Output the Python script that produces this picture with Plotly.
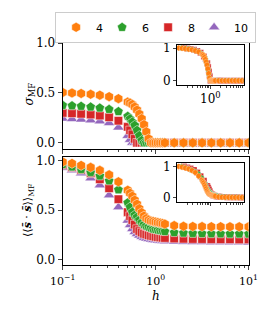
import plotly.graph_objects as go

# ---------------- data ----------------
h = [0.1, 0.126, 0.158, 0.2, 0.251, 0.316, 0.398, 0.501,
     0.531, 0.562, 0.596, 0.631, 0.668, 0.708, 0.75, 0.794, 0.841, 0.891,
     0.944, 1.0, 1.059, 1.122, 1.189,
     1.259, 1.585, 1.995, 2.512, 3.162, 3.981, 5.012, 6.31, 7.943, 10.0]

sigma_4 = [0.505, 0.50, 0.495, 0.487, 0.478, 0.463, 0.443, 0.409,
           0.399, 0.384, 0.359, 0.328, 0.288, 0.242, 0.182, 0.111, 0.04, 0,
           0, 0, 0, 0, 0,
           0, 0, 0, 0, 0, 0, 0, 0, 0, 0]
sigma_6 = [0.376, 0.372, 0.367, 0.36, 0.35, 0.336, 0.314, 0.266,
           0.241, 0.209, 0.175, 0.125, 0.072, 0.023, 0, 0, 0, 0,
           0, 0, 0, 0, 0,
           0, 0, 0, 0, 0, 0, 0, 0, 0, 0]
sigma_8 = [0.30, 0.296, 0.291, 0.284, 0.273, 0.256, 0.222, 0.16,
           0.125, 0.085, 0.04, 0, 0, 0, 0, 0, 0, 0,
           0, 0, 0, 0, 0,
           0, 0, 0, 0, 0, 0, 0, 0, 0, 0]
sigma_10 = [0.243, 0.239, 0.234, 0.226, 0.216, 0.198, 0.154, 0.07,
            0.03, 0, 0, 0, 0, 0, 0, 0, 0, 0,
            0, 0, 0, 0, 0,
            0, 0, 0, 0, 0, 0, 0, 0, 0, 0]

ss_4 = [0.985, 0.97, 0.95, 0.93, 0.90, 0.855, 0.785, 0.70,
        0.67, 0.64, 0.60, 0.56, 0.515, 0.475, 0.44, 0.415, 0.40, 0.39,
        0.385, 0.38, 0.375, 0.37, 0.365,
        0.36, 0.345, 0.338, 0.336, 0.335, 0.334, 0.334, 0.333, 0.333, 0.333]
ss_6 = [0.96, 0.935, 0.91, 0.88, 0.845, 0.795, 0.705, 0.575,
        0.53, 0.48, 0.45, 0.43, 0.40, 0.375, 0.355, 0.34, 0.33, 0.32,
        0.31, 0.305, 0.30, 0.295, 0.29,
        0.285, 0.275, 0.27, 0.267, 0.265, 0.264, 0.263, 0.262, 0.262, 0.261]
ss_8 = [0.955, 0.93, 0.905, 0.87, 0.81, 0.72, 0.61, 0.48,
        0.44, 0.40, 0.355, 0.31, 0.29, 0.275, 0.262, 0.255, 0.248, 0.242,
        0.237, 0.232, 0.228, 0.225, 0.222,
        0.22, 0.215, 0.212, 0.21, 0.209, 0.208, 0.207, 0.207, 0.206, 0.206]
ss_10 = [0.925, 0.90, 0.87, 0.82, 0.75, 0.65, 0.53, 0.395,
         0.35, 0.31, 0.28, 0.26, 0.245, 0.232, 0.222, 0.215, 0.21, 0.205,
         0.2, 0.197, 0.194, 0.192, 0.19,
         0.188, 0.184, 0.182, 0.18, 0.179, 0.178, 0.178, 0.177, 0.177, 0.176]

sizes = [4, 6, 8, 10]
h_c = [0.89, 0.74, 0.62, 0.55]
colors = ["#ff7f0e", "#2ca02c", "#d62728", "#9467bd"]
symbols = ["hexagon", "pentagon", "square", "triangle-up"]
msizes = [10, 10, 8.5, 10]
legend_w = [1, 1, 1, 16]
sigmas = [sigma_4, sigma_6, sigma_8, sigma_10]
sss = [ss_4, ss_6, ss_8, ss_10]

# ---------------- figure ----------------
fig = go.Figure()
serif = "DejaVu Serif"

for i in [3, 2, 1, 0]:
    N = sizes[i]
    mk = dict(symbol=symbols[i], color=colors[i], size=msizes[i],
              line=dict(color="white", width=0.5))
    mk_small = dict(symbol=symbols[i], color=colors[i], size=6,
                    line=dict(color="white", width=0.3))
    fig.add_trace(go.Scatter(x=h, y=sigmas[i], mode="markers", marker=mk,
                             name=str(N), legendrank=i + 1, legendwidth=legend_w[i],
                             xaxis="x", yaxis="y", showlegend=True))
    fig.add_trace(go.Scatter(x=h, y=sss[i], mode="markers", marker=mk,
                             name=str(N), xaxis="x2", yaxis="y2", showlegend=False))
    xs = [v / h_c[i] for v in h]
    ys_top = [v / sigmas[i][0] for v in sigmas[i]]
    s0, s1 = sss[i][0], sss[i][-1]
    ys_bot = [(v - s1) / (s0 - s1) for v in sss[i]]
    fig.add_trace(go.Scatter(x=xs, y=ys_top, mode="markers", marker=mk_small,
                             xaxis="x3", yaxis="y3", showlegend=False, cliponaxis=True))
    fig.add_trace(go.Scatter(x=xs, y=ys_bot, mode="markers", marker=mk_small,
                             xaxis="x4", yaxis="y4", showlegend=False, cliponaxis=True))

minor_vals = [m * 10 ** e for e in (-1, 0) for m in range(2, 10)]
tickfont = dict(family=serif, size=12, color="black")
xdom = [54 / 275, 256 / 275]
idom = [178.3 / 275, 250.7 / 275]

common_x = dict(type="log", range=[-1, 1], showline=True, linecolor="black", linewidth=1,
                mirror=True, ticks="outside", ticklen=4, tickwidth=1, showgrid=False,
                zeroline=False, tickvals=[0.1, 1, 10],
                minor=dict(tickvals=minor_vals, ticks="outside", ticklen=2, tickwidth=0.8,
                           showgrid=False),
                tickfont=tickfont)
common_y = dict(showline=True, linecolor="black", linewidth=1, mirror=True,
                ticks="outside", ticklen=4, tickwidth=1, showgrid=False, zeroline=False,
                tickfont=tickfont)

top_dom = [1 - 148.3 / 315, 1 - 35 / 315]
bot_dom = [1 - 266.7 / 315, 1 - 156.7 / 315]

fig.update_layout(
    width=275, height=315,
    margin=dict(l=0, r=0, t=0, b=0),
    paper_bgcolor="white", plot_bgcolor="white",
    xaxis=dict(common_x, domain=xdom, anchor="y", showticklabels=False),
    yaxis=dict(common_y, domain=top_dom, anchor="x",
               range=[-0.062, 1.049], tickvals=[0, 0.5, 1], ticktext=["0.0", "0.5", "1.0"]),
    xaxis2=dict(common_x, domain=xdom, anchor="y2", ticklabelstandoff=2,
                tickfont=dict(family=serif, size=11, color="black"),
                ticktext=["10<sup>−1</sup>", "10<sup>0</sup>", "10<sup>1</sup>"]),
    yaxis2=dict(common_y, domain=bot_dom, anchor="x2",
                range=[-0.049, 1.032], tickvals=[0, 0.5, 1], ticktext=["0.0", "0.5", "1.0"]),
    xaxis3=dict(common_x, domain=idom, anchor="y3", ticklen=3,
                tickvals=[1], ticktext=["10<sup>0</sup>"]),
    yaxis3=dict(common_y, domain=[1 - 82.7 / 315, 1 - 42 / 315], anchor="x3",
                range=[-0.13, 1.09], tickvals=[0, 1], ticktext=["0", "1"], ticklen=3),
    xaxis4=dict(common_x, domain=idom, anchor="y4", ticklen=3,
                tickvals=[1], showticklabels=False),
    yaxis4=dict(common_y, domain=[1 - 202.3 / 315, 1 - 162.3 / 315], anchor="x4",
                range=[-0.14, 1.12], tickvals=[0, 1], ticktext=["0", "1"], ticklen=3),
    legend=dict(orientation="h", x=155 / 275, xanchor="center", y=1 - 8 / 315,
                yanchor="top", bgcolor="white", bordercolor="#cccccc", borderwidth=1,
                font=dict(family="DejaVu Sans", size=11, color="black"),
                itemwidth=30, tracegroupgap=0),
    annotations=[
        dict(text="<i>σ</i><sub>MF</sub>", xref="paper", yref="paper",
             x=18 / 275, y=1 - 92 / 315, textangle=-90, showarrow=False,
             font=dict(family=serif, size=12, color="black"),
             xanchor="center", yanchor="middle"),
        dict(text="⟨⟨<b><i>s̄</i></b> · <b><i>s̄</i></b>⟩⟩<sub>MF</sub>", xref="paper",
             yref="paper", x=17 / 275, y=1 - 211 / 315, textangle=-90, showarrow=False,
             font=dict(family=serif, size=11, color="black"),
             xanchor="center", yanchor="middle"),
        dict(text="<i>h</i>", xref="paper", yref="paper",
             x=155 / 275, y=1 - 299 / 315, showarrow=False,
             font=dict(family=serif, size=12, color="black"),
             xanchor="center", yanchor="middle"),
    ],
)

fig.write_html("out.html", config={"displayModeBar": False},
               post_script="document.body.style.margin='0px';document.body.style.padding='0px';")
